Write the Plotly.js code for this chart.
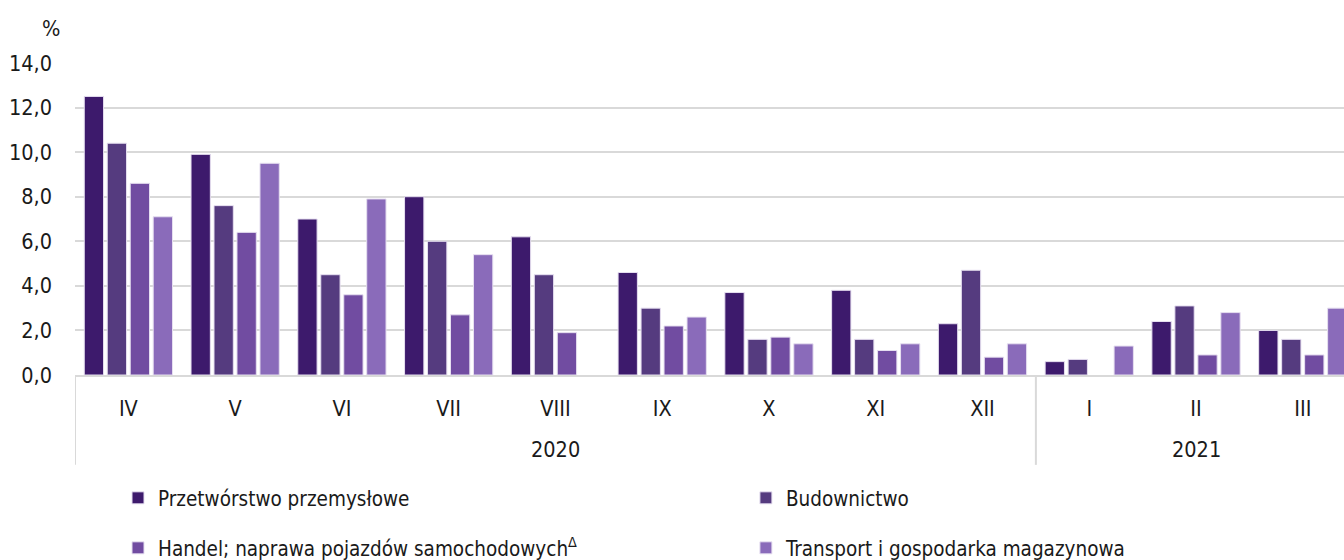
<!DOCTYPE html>
<html>
<head>
<meta charset="utf-8">
<script src="https://cdn.plot.ly/plotly-3.0.1.min.js"></script>
<style>html,body{margin:0;padding:0;background:#fff;}#chart{width:1344px;height:560px;}</style>
</head>
<body>
<div id="chart"></div>
<script>
const months = ["IV","V","VI","VII","VIII","IX","X","XI","XII","I","II","III"];
const years = ["2020","2021"];
const seriesNames = ["Przetwórstwo przemysłowe","Budownictwo","Handel; naprawa pojazdów samochodowych<sup>Δ</sup>","Transport i gospodarka magazynowa"];
const przetworstwo = [12.5, 9.9, 7.0, 8.0, 6.2, 4.6, 3.7, 3.8, 2.3, 0.6, 2.4, 2.0];
const budownictwo  = [10.4, 7.6, 4.5, 6.0, 4.5, 3.0, 1.6, 1.6, 4.7, 0.7, 3.1, 1.6];
const handel       = [8.6, 6.4, 3.6, 2.7, 1.9, 2.2, 1.7, 1.1, 0.8, null, 0.9, 0.9];
const transport    = [7.1, 9.5, 7.9, 5.4, null, 2.6, 1.4, 1.4, 1.4, 1.3, 2.8, 3.0];
const yTicks = [0, 2, 4, 6, 8, 10, 12, 14];
const yTickText = ["0,0","2,0","4,0","6,0","8,0","10,0","12,0","14,0"];

const colors = ["#3d1a6c","#553b7f","#714ca1","#8a6bba"];
const FONT = "'DejaVu Sans Condensed', 'DejaVu Sans', sans-serif";
const FS = 21.5;
const LFS = 20.5;
const allSeries = [przetworstwo, budownictwo, handel, transport];
const legendIds = ["legend","legend2","legend3","legend4"];
const legendPos = [[0.0878, 0.1107], [0.555, 0.1107], [0.0878, 0.0214], [0.555, 0.0214]];

const traces = allSeries.map((vals, i) => ({
  type: "bar",
  name: seriesNames[i],
  x: months,
  y: vals,
  legend: legendIds[i],
  marker: {color: colors[i], line: {color: "#e6dff0", width: 1}},
  hoverinfo: "x+y+name"
}));

const layout = {
  width: 1344, height: 560,
  margin: {l: 75, r: 0, t: 63, b: 185},
  paper_bgcolor: "#fff", plot_bgcolor: "#fff",
  font: {family: FONT, size: FS, color: "#1a1a1a"},
  barmode: "group",
  bargap: 0.139,
  bargroupgap: 0.16,
  showlegend: true,
  xaxis: {
    type: "category",
    range: [-0.5, 11.386],
    showline: true, linecolor: "#d9d9d9", linewidth: 2,
    showgrid: false, ticks: "",
    ticklabelstandoff: 13,
    tickfont: {family: FONT, size: FS, color: "#1a1a1a"},
    fixedrange: true
  },
  yaxis: {
    range: [0, 14],
    tickvals: yTicks, ticktext: yTickText,
    showgrid: true, gridcolor: "#d9d9d9", gridwidth: 2,
    zeroline: false, showline: false, ticks: "",
    ticklabelstandoff: 22,
    tickfont: {family: FONT, size: FS, color: "#1a1a1a"},
    fixedrange: true
  },
  annotations: [
    {text: "%", xref: "paper", yref: "paper", x: -0.019, y: 1.112, xanchor: "center", yanchor: "middle", showarrow: false, font: {family: FONT, size: FS, color: "#1a1a1a"}},
    {text: years[0], xref: "x", yref: "paper", x: 4, y: -0.24, xanchor: "center", yanchor: "middle", showarrow: false, font: {family: FONT, size: FS, color: "#1a1a1a"}},
    {text: years[1], xref: "x", yref: "paper", x: 10, y: -0.24, xanchor: "center", yanchor: "middle", showarrow: false, font: {family: FONT, size: FS, color: "#1a1a1a"}}
  ],
  shapes: [
    {type: "line", xref: "x", yref: "paper", x0: -0.5, x1: -0.5, y0: 0, y1: -0.288, line: {color: "#d9d9d9", width: 2}},
    {type: "line", xref: "x", yref: "paper", x0: 8.5, x1: 8.5, y0: 0, y1: -0.288, line: {color: "#d9d9d9", width: 2}}
  ]
};
legendIds.forEach((id, i) => {
  layout[id] = {
    orientation: "h", xref: "container", yref: "container",
    x: legendPos[i][0], y: legendPos[i][1], xanchor: "left", yanchor: "middle",
    itemwidth: 30,
    font: {family: FONT, size: LFS, color: "#1a1a1a"},
    bgcolor: "rgba(0,0,0,0)"
  };
});

Plotly.newPlot("chart", traces, layout, {displayModeBar: false, staticPlot: true});
</script>
</body>
</html>
